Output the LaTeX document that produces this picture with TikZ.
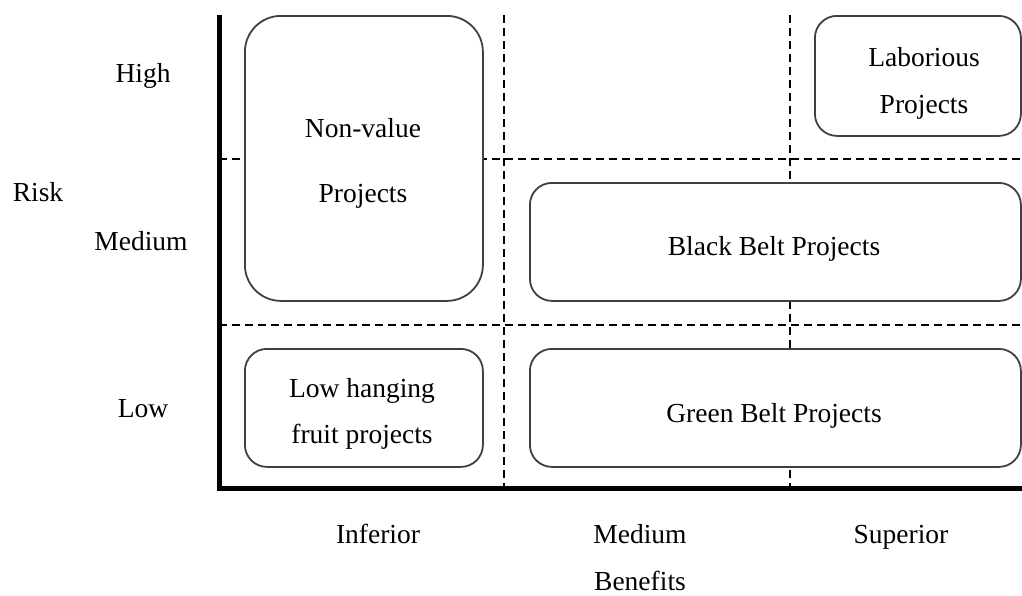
\documentclass[tikz,border=0pt]{standalone}
\usepackage{fontspec}
\setmainfont{Liberation Serif}
\begin{document}
\begin{tikzpicture}[x=1pt,y=-1pt,
  every node/.style={font=\fontsize{27.5}{33}\selectfont, inner sep=0pt},
  axisline/.style={line width=5pt},
  gridline/.style={line width=1.8pt, dash pattern=on 8pt off 5pt},
  projbox/.style={draw=black!75, fill=white, line width=1.8pt, rounded corners=#1, anchor=north west},
  projbox/.default=22pt,
  txt/.style={anchor=base}]
\useasboundingbox (0,0) rectangle (1022,595);

% axes
\coordinate (top) at (219,15);
\coordinate (origin) at (219,488);
\coordinate (right) at (1022,488);
% grid line end points
\coordinate (v1t) at (504,15);  \coordinate (v1b) at (504,488);
\coordinate (v2t) at (790,15);  \coordinate (v2b) at (790,488);
\coordinate (h1l) at (219,159); \coordinate (h1r) at (1022,159);
\coordinate (h2l) at (219,325); \coordinate (h2r) at (1022,325);

\draw[gridline] (v1t) -- (v1b);
\draw[gridline] (v2t) -- (v2b);
\draw[gridline] (h1l) -- (h1r);
\draw[gridline] (h2l) -- (h2r);

% project boxes
\node[projbox=36pt, minimum width=238pt, minimum height=285pt] (nonvalue) at (244,15) {};
\node[txt] (nvA) at (363,137) {Non-value};
\node[txt] (nvB) at (363,202) {Projects};

\node[projbox, minimum width=206pt, minimum height=120pt] (laborious) at (814,15) {};
\node[txt] (labA) at (924,66) {Laborious};
\node[txt] (labB) at (924,113) {Projects};

\node[projbox, minimum width=491pt, minimum height=118pt] (black) at (529,182) {};
\node[txt] (blackT) at (774,255) {Black Belt Projects};

\node[projbox, minimum width=238pt, minimum height=118pt] (lowhang) at (244,348) {};
\node[txt] (lowA) at (362,397) {Low hanging};
\node[txt] (lowB) at (362,443) {fruit projects};

\node[projbox, minimum width=491pt, minimum height=118pt] (green) at (529,348) {};
\node[txt] (greenT) at (774,422) {Green Belt Projects};

\draw[axisline] (top) -- (origin) -- (right);

% axis labels
\node[txt] (high) at (143,82) {High};
\node[txt] (risk) at (38,201) {Risk};
\node[txt] (medr) at (141,250) {Medium};
\node[txt] (low) at (143,417) {Low};
\node[txt] (inf) at (378,543) {Inferior};
\node[txt] (medb) at (640,543) {Medium};
\node[txt] (sup) at (901,543) {Superior};
\node[txt] (ben) at (640,590) {Benefits};
\end{tikzpicture}
\end{document}
